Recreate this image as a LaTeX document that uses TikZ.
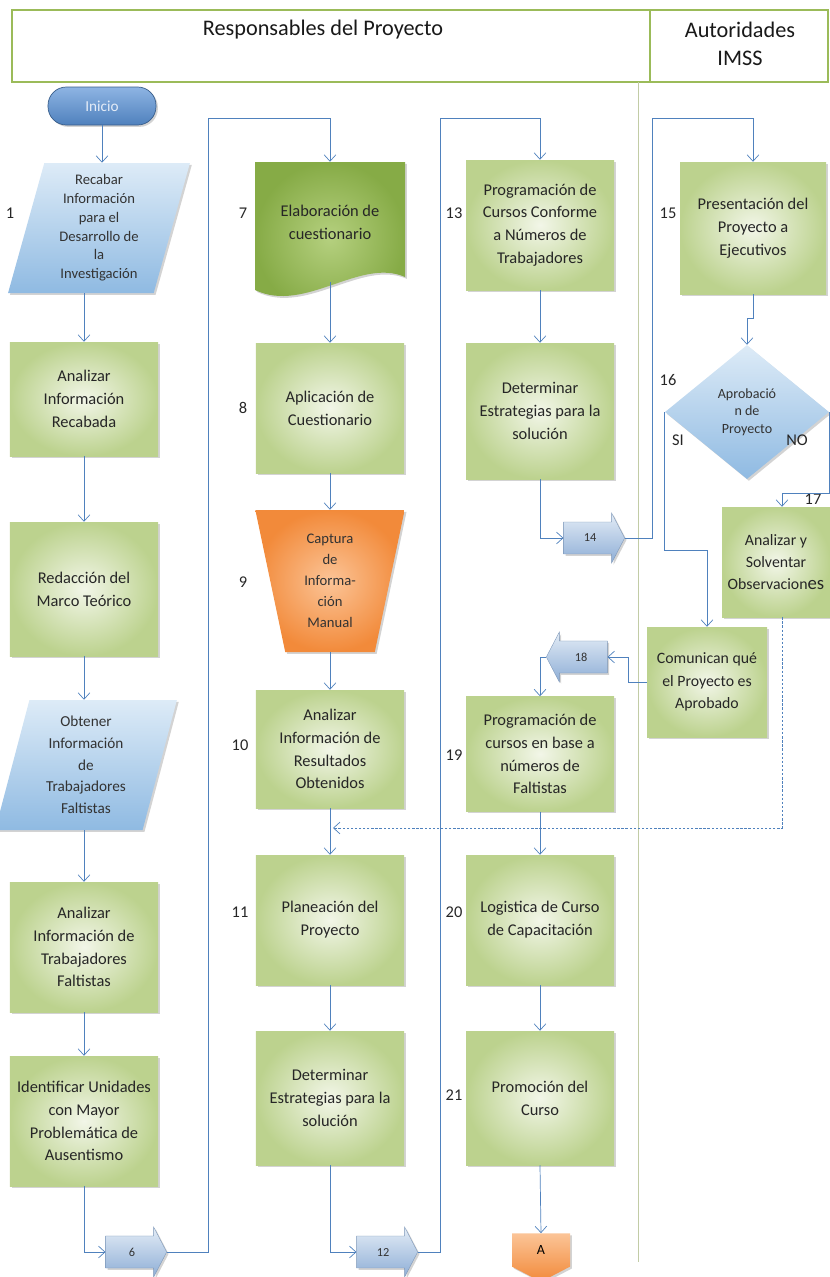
\documentclass[tikz,border=0pt]{standalone}
\usepackage{fontspec}
\setmainfont{Carlito}
\usetikzlibrary{arrows.meta,shapes.geometric,shapes.arrows,shapes.symbols,shadows}

\definecolor{linkblue}{HTML}{4F81BD}
\definecolor{boxin}{HTML}{F2F6E8}
\definecolor{boxout}{HTML}{BCD28E}
\definecolor{docin}{HTML}{B5D07F}
\definecolor{docout}{HTML}{86AB46}
\definecolor{skyin}{HTML}{DDEBF7}
\definecolor{skyout}{HTML}{8FBAE2}
\definecolor{arrowin}{HTML}{E3ECF6}
\definecolor{arrowout}{HTML}{8EAED6}
\definecolor{orangein}{HTML}{FBC497}
\definecolor{orangeout}{HTML}{F28A3A}
\definecolor{startin}{HTML}{8EB4E3}
\definecolor{startout}{HTML}{4F81BD}
\definecolor{startfont}{HTML}{E4ECF7}
\definecolor{darkblue}{HTML}{385D8A}
\definecolor{laneline}{HTML}{C2CCA6}
\definecolor{headgreen}{HTML}{9BBB59}

\tikzset{
  lanehead/.style = {rectangle, draw=headgreen, line width=2pt, fill=white, inner sep=0pt},
  headtext/.style = {font=\fontsize{19}{24}\selectfont, align=center, text=black!90},
  lane/.style = {draw=laneline, line width=0.8pt},
  boxshadow/.style = {drop shadow={shadow xshift=1.6pt, shadow yshift=-1.6pt, opacity=0.35}},
  procbox/.style = {rectangle, inner color=boxin, outer color=boxout, boxshadow,
    minimum width=4.44cm, minimum height=3.9cm, align=center, text=black!85,
    font=\fontsize{14}{19.5}\selectfont},
  docbox/.style = {rectangle, minimum width=4.5cm, minimum height=3.6cm, align=center,
    text=black!85, font=\fontsize{14}{19.5}\selectfont},
  docshade/.style = {inner color=docin, outer color=docout, boxshadow},
  iobox/.style = {trapezium, trapezium left angle=76, trapezium right angle=104,
    trapezium stretches=true, minimum width=5.46cm, minimum height=3.9cm,
    top color=skyin, bottom color=skyout, boxshadow, align=center, inner sep=1pt, text=black!80},
  manualbox/.style = {trapezium, shape border rotate=180, trapezium left angle=79,
    trapezium right angle=79, trapezium stretches=true, minimum width=4.5cm, minimum height=4.26cm,
    inner color=orangein, outer color=orangeout, boxshadow, align=center, text=black!80,
    font=\fontsize{12.5}{18}\selectfont},
  decision/.style = {diamond, aspect=1.22, inner sep=0pt, minimum width=4.92cm, minimum height=4.02cm,
    top color=skyin, bottom color=skyout, boxshadow, align=center, text=black!80,
    font=\fontsize{12}{15}\selectfont},
  startbox/.style = {rectangle, rounded corners=0.55cm, minimum width=3.24cm, minimum height=1.14cm,
    top color=startin, bottom color=startout, draw=darkblue, line width=0.6pt, boxshadow,
    text=startfont, font=\fontsize{13}{15}\selectfont},
  jumparrow/.style = {single arrow, single arrow tip angle=125, inner xsep=3pt, inner ysep=9pt,
    minimum height=1.83cm, minimum width=1.5cm, top color=arrowin, bottom color=arrowout,
    draw=arrowout!85!black, line width=0.3pt, boxshadow, font=\fontsize{10.5}{12}\selectfont, text=black!80},
  offpage/.style = {signal, signal to=south, signal from=nowhere, signal pointer angle=125,
    minimum width=1.74cm, minimum height=1.08cm, inner sep=1pt, top color=orangein,
    bottom color=orangeout, boxshadow, font=\fontsize{12}{14}\selectfont},
  stepnum/.style = {font=\fontsize{14}{16}\selectfont, text=black!85, inner sep=1pt},
  numtick/.style = {draw=linkblue, line width=1.1pt},
  flowline/.style = {draw=linkblue, line width=0.6pt, -{Straight Barb[length=5.5pt, width=10pt]}},
  returnline/.style = {flowline, dash pattern=on 2pt off 1.5pt},
}

\begin{document}
\begin{tikzpicture}[x=0.03cm, y=-0.03cm]
\useasboundingbox (0,0) rectangle (829,1277);

% header of the two lanes
\node[lanehead, minimum width=19.14cm, minimum height=2.16cm] (headL) at (331,46) {};
\node[lanehead, minimum width=5.34cm, minimum height=2.16cm] (headR) at (739,46) {};
\node[headtext] (respTxt) at (323,30) {Responsables del Proyecto};
\node[headtext] (imssTxt) at (740,44) {Autoridades\\IMSS};
\coordinate (laneTop) at (638,82);
\coordinate (laneBot) at (638,1262);
\draw[lane] (laneTop) -- (laneBot);

% column 1
\begin{scope}[shift={(84,0)}]
  \node[startbox] (start) at (18,106) {Inicio};
  \node[iobox, font=\fontsize{12.5}{16}\selectfont] (recabar) at (15,228)
    {Recabar\\Información\\para el\\Desarrollo de\\la\\Investigación};
  \node[stepnum] (n1) at (-74,213) {1};
  \node[procbox, minimum height=3.42cm] (anaRec) at (0,399) {Analizar\\Información\\Recabada};
  \node[procbox, minimum height=4.02cm] (marco) at (0,589) {Redacción del\\Marco Teórico};
  \node[iobox, font=\fontsize{13}{18.5}\selectfont] (obtener) at (2,765)
    {Obtener\\Información\\de\\Trabajadores\\Faltistas};
  \node[procbox] (anaTrab) at (0,947) {Analizar\\Información de\\Trabajadores\\Faltistas};
  \node[procbox] (unidades) at (0,1121) {Identificar Unidades\\con Mayor\\Problemática de\\Ausentismo};
  \node[jumparrow] (j6) at (48,1252) {6};
\end{scope}

% column 2
\begin{scope}[shift={(330,0)}]
  \path[docshade] (-75,162) -- (75,162) -- (75,277) .. controls (30,257) and (-25,314) .. (-75,290) -- cycle;
  \node[docbox] (cuest) at (0,222) {Elaboración de\\cuestionario};
  \node[stepnum] (n7) at (-87,213) {7};
  \node[procbox] (aplica) at (0,408) {Aplicación de\\Cuestionario};
  \node[stepnum] (n8) at (-87,408) {8};
  \node[manualbox] (captura) at (0,581) {Captura\\de\\Informa-\\ción\\Manual};
  \node[stepnum] (n9) at (-87,582) {9};
  \node[procbox, minimum height=3.54cm] (resul) at (0,749) {Analizar\\Información de\\Resultados\\Obtenidos};
  \node[stepnum] (n10) at (-90,745) {10};
  \node[procbox] (planea) at (0,920) {Planeación del\\Proyecto};
  \node[stepnum] (n11) at (-90,912) {11};
  \node[procbox, minimum height=4.02cm] (estrat) at (0,1098) {Determinar\\Estrategias para la\\solución};
  \node[jumparrow] (j12) at (53,1252) {12};
\end{scope}

% column 3
\begin{scope}[shift={(540,0)}]
  \node[procbox] (progr) at (0,225) {Programación de\\Cursos Conforme\\a Números de\\Trabajadores};
  \node[stepnum] (n13) at (-86,213) {13};
  \node[procbox, minimum height=4.08cm] (estrat2) at (0,411) {Determinar\\Estrategias para la\\solución};
  \node[jumparrow] (j14) at (50,538) {14};
  \node[jumparrow, shape border rotate=180] (j18) at (41,657) {18};
  \node[procbox, minimum height=3.45cm] (progFalt) at (0,754) {Programación de\\cursos en base a\\números de\\Faltistas};
  \node[stepnum] (n19) at (-86,755) {19};
  \node[procbox] (logist) at (0,920) {Logistica de Curso\\de Capacitación};
  \node[stepnum] (n20) at (-86,912) {20};
  \node[procbox, minimum height=4.02cm] (promo) at (0,1098) {Promoción del\\Curso};
  \node[stepnum] (n21) at (-86,1095) {21};
  \node[offpage] (conA) at (1,1250) {A};
\end{scope}

% column 4: autoridades
\node[procbox, minimum width=4.38cm, minimum height=3.96cm] (present) at (753,228) {Presentación del\\Proyecto a\\Ejecutivos};
\node[stepnum] (n15) at (668,213) {15};
\node[decision] (aprob) at (747,412) {Aprobació\\n de\\Proyecto};
\node[stepnum] (n16) at (668,380) {16};
\node[stepnum] (si) at (678,440) {SI};
\node[stepnum] (no) at (797,440) {NO};
\node[procbox, minimum width=3.24cm, minimum height=3.3cm, font=\fontsize{13.5}{19}\selectfont] (solvent) at (776,562)
  {Analizar y\\Solventar\\Observacion{\fontsize{16}{19}\selectfont es}};
\node[stepnum] (n17) at (813,499) {17};
\node[procbox, minimum width=3.6cm, minimum height=3.3cm, font=\fontsize{13.5}{19}\selectfont] (comunica) at (707,682)
  {Comunican qué\\el Proyecto es\\Aprobado};

% ticks beside step numbers
\foreach \n in {n13,n19,n20,n21}
  \draw[numtick] ([shift={(-3pt,16pt)}]\n.west) -- ([shift={(-3pt,-16pt)}]\n.west);

% bend points
\coordinate (up6) at (208,118);
\coordinate (up12) at (440,118);
\coordinate (up14) at (652,118);
\coordinate (no17) at (782,493);
\coordinate (ret) at (333,828);

% connectors column 1
\draw[flowline] (start.south) -- (start.south |- recabar.north);
\draw[flowline] (anaRec.north |- recabar.south) -- (anaRec.north);
\draw[flowline] (anaRec.south) -- (marco.north);
\draw[flowline] (marco.south) -- (marco.south |- obtener.north);
\draw[flowline] (anaTrab.north |- obtener.south) -- (anaTrab.north);
\draw[flowline] (anaTrab.south) -- (unidades.north);
\draw[flowline] (unidades.south) |- (j6.tail);
\draw[flowline] (j6.tip) -| (up6) -| (cuest.north);

% connectors column 2
\draw[flowline] (cuest.south) -- (aplica.north);
\draw[flowline] (aplica.south) -- (captura.90);
\draw[flowline] (captura.270) -- (resul.north);
\draw[flowline] (resul.south) -- (planea.north);
\draw[flowline] (planea.south) -- (estrat.north);
\draw[flowline] (estrat.south) |- (j12.tail);
\draw[flowline] (j12.tip) -| (up12) -| (progr.north);

% connectors column 3
\draw[flowline] (progr.south) -- (estrat2.north);
\draw[flowline] (estrat2.south) |- (j14.tail);
\draw[flowline] (j14.tip) -| (up14) -| (present.north);
\draw[flowline] (j18.tip) -| (progFalt.north);
\draw[flowline] (progFalt.south) -- (logist.north);
\draw[flowline] (logist.south) -- (promo.north);
\draw[flowline] (promo.south) -- (conA.north);

% connectors column 4
\draw[flowline] (present.south) -- ++(0,24) -| (aprob.north);
\draw[flowline] (aprob.west) -- ++(0,138) -| (comunica.north);
\draw[flowline] (aprob.east) |- (no17) -- (no17 |- solvent.north);
\draw[returnline] (no17 |- solvent.south) |- (ret);
\draw[flowline] (comunica.west) -- ++(-18,0) |- (j18.tail);

\end{tikzpicture}
\end{document}
